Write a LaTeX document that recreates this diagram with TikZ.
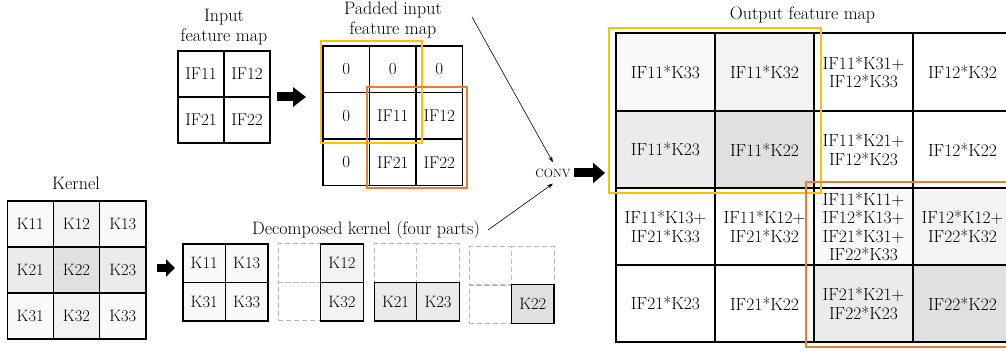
\documentclass[tikz,border=0pt]{standalone}
\usetikzlibrary{arrows.meta}
\definecolor{gold}{HTML}{FFC000}
\definecolor{orng}{HTML}{ED7D31}
\definecolor{ga}{HTML}{FAFAFA}
\definecolor{gb}{HTML}{F3F3F3}
\definecolor{gc}{HTML}{EBEBEB}
\definecolor{gd}{HTML}{E0E0E0}
\definecolor{dgray}{HTML}{B8B8B8}
\begin{document}
\begin{tikzpicture}[x=1pt,y=-1pt,
  grid/.style={draw, line width=1.1pt, inner sep=0pt, align=center, font=\fontsize{17.5}{18.6}\selectfont},
  sq/.style={grid, minimum width=46.5pt, minimum height=46.5pt, font=\fontsize{17}{19}\selectfont},
  ksq/.style={grid, minimum width=46.3pt, minimum height=46pt, font=\fontsize{16.5}{18}\selectfont},
  dsq/.style={grid, minimum width=42.5pt, minimum height=38.5pt, font=\fontsize{16.5}{18}\selectfont},
  dsh/.style={draw=dgray, line width=1pt, dash pattern=on 5pt off 3pt, minimum width=42.5pt, minimum height=38.5pt, inner sep=0pt},
  osq/.style={grid, minimum width=99pt, minimum height=77pt},
  lbl/.style={inner sep=0pt, align=center, font=\fontsize{18}{20}\selectfont},
  thinarr/.style={line width=0.6pt, -{Stealth[length=6pt,width=4pt]}},
  hly/.style={draw=gold, line width=2pt},
  hlo/.style={draw=orng, line width=2pt}]
\useasboundingbox (0,0) rectangle (1006,352);
\clip (0,0) rectangle (1006,352);

% Input feature map
\node[lbl] (inlbl) at (224,27) {Input\\feature map};
\node[sq, minimum width=46pt, minimum height=46pt] (i11) at (201,74) {IF11};
\node[sq, minimum width=46pt, minimum height=46pt] (i12) at (247,74) {IF12};
\node[sq, minimum width=46pt, minimum height=46pt] (i21) at (201,120) {IF21};
\node[sq, minimum width=46pt, minimum height=46pt] (i22) at (247,120) {IF22};

% Padded input feature map
\node[lbl] (padlbl) at (393,20) {Padded input\\feature map};
\node[sq] (p11) at (346.25,69.25) {0};
\node[sq] (p12) at (392.75,69.25) {0};
\node[sq] (p13) at (439.25,69.25) {0};
\node[sq] (p21) at (346.25,115.75) {0};
\node[sq] (p22) at (392.75,115.75) {IF11};
\node[sq] (p23) at (439.25,115.75) {IF12};
\node[sq] (p31) at (346.25,162.25) {0};
\node[sq] (p32) at (392.75,162.25) {IF21};
\node[sq] (p33) at (439.25,162.25) {IF22};
\draw[hly] (321,41) rectangle (422,143);
\draw[hlo] (367,87) rectangle (467,188);

% arrow input -> padded
\coordinate (a1s) at (277,97);
\coordinate (a1e) at (306,97);
\draw[line width=9pt, -{Triangle[length=13pt,width=19pt]}] (a1s) -- (a1e);

% Kernel
\node[lbl] (klbl) at (76,183) {Kernel};
\node[ksq, fill=ga] (k11) at (30.2,224) {K11};
\node[ksq, fill=gb] (k12) at (76.5,224) {K12};
\node[ksq, fill=ga] (k13) at (122.8,224) {K13};
\node[ksq, fill=gc] (k21) at (30.2,270) {K21};
\node[ksq, fill=gd] (k22) at (76.5,270) {K22};
\node[ksq, fill=gc] (k23) at (122.8,270) {K23};
\node[ksq, fill=ga] (k31) at (30.2,316) {K31};
\node[ksq, fill=gb] (k32) at (76.5,316) {K32};
\node[ksq, fill=ga] (k33) at (122.8,316) {K33};

% arrow kernel -> decomposed
\coordinate (a2s) at (157,268);
\coordinate (a2e) at (175,268);
\draw[line width=8pt, -{Triangle[length=9pt,width=17pt]}] (a2s) -- (a2e);

% Decomposed kernel
\node[lbl] (declbl) at (366,230) {Decomposed kernel (four parts)};
% part 1
\node[dsq, fill=ga] (d1a) at (204.25,263.25) {K11};
\node[dsq, fill=ga] (d1b) at (246.75,263.25) {K13};
\node[dsq, fill=ga] (d1c) at (204.25,301.75) {K31};
\node[dsq, fill=ga] (d1d) at (246.75,301.75) {K33};
% part 2
\node[dsh] (d2a) at (299.5,263.25) {};
\node[dsh] (d2c) at (299.5,301.75) {};
\node[dsq, fill=gb] (d2b) at (342,263.25) {K12};
\node[dsq, fill=gb] (d2d) at (342,301.75) {K32};
% part 3
\node[dsh] (d3a) at (395.5,263.25) {};
\node[dsh] (d3b) at (438,263.25) {};
\node[dsq, fill=gc] (d3c) at (395.5,301.75) {K21};
\node[dsq, fill=gc] (d3d) at (438,301.75) {K23};
% part 4
\node[dsh] (d4a) at (490.25,266) {};
\node[dsh] (d4b) at (532.75,266) {};
\node[dsh] (d4c) at (490.25,304) {};
\node[dsq, fill=gd] (d4d) at (532.75,304) {K22};

% CONV
\node[inner xsep=1pt, inner ysep=6pt, font=\fontsize{12}{14}\selectfont] (conv) at (553,173) {CONV};
\coordinate (t1s) at (472,17);
\coordinate (t2s) at (488,230);
\draw[thinarr] (t1s) -- (conv.north);
\draw[thinarr] (t2s) -- (conv.south);
\coordinate (a3s) at (574,173);
\coordinate (a3e) at (605,173);
\draw[line width=9pt, -{Triangle[length=12pt,width=20pt]}] (a3s) -- (a3e);

% Output feature map
\node[lbl] (outlbl) at (802.5,15) {Output feature map};
\node[osq, fill=ga, minimum height=78pt] (o11) at (665.5,72) {IF11*K33};
\node[osq, fill=gb, minimum height=78pt] (o12) at (764.5,72) {IF11*K32};
\node[osq, minimum height=78pt] (o13) at (863.5,72) {IF11*K31+\\IF12*K33};
\node[osq, minimum height=78pt] (o14) at (962.5,72) {IF12*K32};
\node[osq, fill=gc] (o21) at (665.5,149.5) {IF11*K23};
\node[osq, fill=gd] (o22) at (764.5,149.5) {IF11*K22};
\node[osq] (o23) at (863.5,149.5) {IF11*K21+\\IF12*K23};
\node[osq] (o24) at (962.5,149.5) {IF12*K22};
\node[osq] (o31) at (665.5,226.5) {IF11*K13+\\IF21*K33};
\node[osq] (o32) at (764.5,226.5) {IF11*K12+\\IF21*K32};
\node[osq, fill=ga] (o33) at (863.5,226.5) {IF11*K11+\\IF12*K13+\\IF21*K31+\\IF22*K33};
\node[osq, fill=gb] (o34) at (962.5,226.5) {IF12*K12+\\IF22*K32};
\node[osq] (o41) at (665.5,303.5) {IF21*K23};
\node[osq] (o42) at (764.5,303.5) {IF21*K22};
\node[osq, fill=gc] (o43) at (863.5,303.5) {IF21*K21+\\IF22*K23};
\node[osq, fill=gd] (o44) at (962.5,303.5) {IF22*K22};
\draw[hly] (609,28) rectangle (821,193);
\draw[hlo] (806,182) rectangle (1020,347);
\end{tikzpicture}
\end{document}
